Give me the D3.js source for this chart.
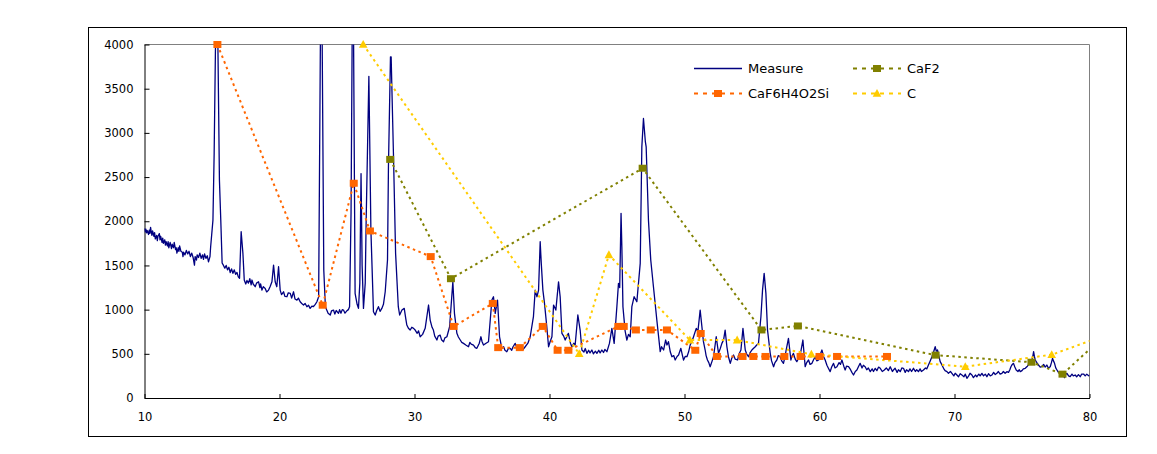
<!DOCTYPE html>
<html>
<head>
<meta charset="utf-8">
<script src="https://cdn.jsdelivr.net/npm/d3@7"></script>
<style>
  body { margin: 0; background: #fff; }
  svg text { font-family: "DejaVu Sans", sans-serif; fill: #000; }
  .axis text { font-size: 11.5px; }
  .legend text { font-size: 13px; }
</style>
</head>
<body>
<svg id="chart" width="1157" height="454"></svg>
<script>
// values: [2theta, intensity]
var measure = [
  [10.0,1920],[10.05,1880],[10.1,1910],[10.15,1870],[10.2,1895],[10.3,1850],[10.35,1900],[10.4,1863],[10.45,1930],
  [10.5,1880],[10.55,1840],[10.6,1890],[10.7,1830],[10.75,1870],[10.8,1800],[10.9,1840],[10.95,1780],[11.0,1830],
  [11.1,1860],[11.15,1790],[11.2,1830],[11.3,1760],[11.35,1810],[11.4,1750],[11.5,1790],[11.55,1730],[11.6,1770],
  [11.7,1720],[11.75,1770],[11.8,1700],[11.9,1760],[12.0,1690],[12.05,1740],[12.15,1700],[12.2,1760],[12.3,1680],
  [12.35,1700],[12.4,1640],[12.5,1700],[12.55,1660],[12.6,1720],[12.7,1660],[12.8,1650],[12.85,1600],[12.9,1650],
  [13.0,1620],[13.1,1670],[13.2,1630],[13.3,1660],[13.4,1600],[13.5,1640],[13.6,1590],[13.7,1504],[13.75,1600],
  [13.85,1560],[13.9,1620],[14.0,1590],[14.1,1640],[14.2,1580],[14.3,1620],[14.37,1570],[14.45,1630],[14.55,1580],
  [14.65,1610],[14.74,1541],[14.85,1600],[14.9,1711],[15.07,2013],[15.16,2770],[15.3,4500],[15.4,4500],[15.55,2466],
  [15.65,2013],[15.75,1527],[15.85,1500],[15.95,1470],[16.05,1500],[16.15,1450],[16.25,1480],[16.35,1420],
  [16.45,1460],[16.55,1410],[16.65,1450],[16.75,1400],[16.85,1420],[16.95,1370],[17.04,1354],[17.16,1881],
  [17.29,1636],[17.39,1335],[17.5,1290],[17.59,1330],[17.7,1300],[17.8,1350],[17.9,1280],[17.96,1335],[18.05,1290],
  [18.2,1259],[18.3,1300],[18.45,1315],[18.55,1250],[18.6,1290],[18.7,1221],[18.8,1260],[18.94,1240],[19.05,1200],
  [19.19,1221],[19.3,1260],[19.44,1315],[19.56,1504],[19.68,1315],[19.8,1259],[19.93,1485],[20.05,1221],[20.15,1170],
  [20.3,1202],[20.4,1150],[20.55,1146],[20.65,1190],[20.8,1184],[20.9,1130],[21.04,1202],[21.15,1120],[21.29,1108],
  [21.4,1130],[21.53,1089],[21.65,1070],[21.78,1052],[21.9,1070],[22.03,1033],[22.15,1050],[22.27,1014],[22.4,1040],
  [22.5,1033],[22.65,1060],[22.77,1089],[22.9,1146],[23.05,4500],[23.14,4500],[23.28,1448],[23.4,1033],[23.5,995],
  [23.6,960],[23.76,939],[23.85,985],[24.0,995],[24.1,950],[24.2,990],[24.37,958],[24.45,1000],[24.55,960],
  [24.65,1000],[24.74,995],[24.85,960],[25.0,988],[25.1,1000],[25.19,1033],[25.3,2100],[25.4,4500],[25.47,4500],
  [25.6,1184],[25.75,1060],[25.85,1014],[25.95,1300],[26.04,2540],[26.12,1500],[26.22,1014],[26.35,1300],[26.42,2013],
  [26.62,3640],[26.77,1900],[26.96,976],[27.09,939],[27.2,990],[27.33,1033],[27.45,980],[27.58,1014],[27.7,1060],
  [27.83,1202],[28.0,1561],[28.07,2616],[28.22,3860],[28.27,3860],[28.44,2767],[28.6,1636],[28.8,1033],[28.9,939],
  [29.07,995],[29.24,1014],[29.35,900],[29.43,826],[29.55,790],[29.68,769],[29.8,800],[29.93,788],[30.05,769],
  [30.2,732],[30.3,760],[30.42,693],[30.6,720],[30.79,788],[31.04,1052],[31.16,882],[31.3,800],[31.4,769],
  [31.5,700],[31.66,656],[31.75,700],[31.9,712],[32.0,660],[32.15,637],[32.25,680],[32.4,693],[32.6,806],
  [32.84,1315],[32.96,958],[33.14,732],[33.25,690],[33.39,656],[33.5,630],[33.63,618],[33.8,600],[34.0,580],
  [34.1,630],[34.2,610],[34.37,599],[34.5,570],[34.62,562],[34.8,620],[34.92,693],[35.0,640],[35.11,599],
  [35.3,620],[35.48,637],[35.73,1108],[35.85,1146],[35.98,958],[36.15,1108],[36.3,693],[36.47,562],[36.6,580],
  [36.7,540],[36.84,524],[36.95,560],[37.09,562],[37.2,540],[37.3,580],[37.46,618],[37.6,560],[37.7,590],
  [37.83,543],[37.95,570],[38.05,550],[38.2,580],[38.4,620],[38.57,693],[38.81,920],[38.94,1221],[39.07,1146],
  [39.19,1221],[39.31,1768],[39.39,1523],[39.51,1221],[39.63,1071],[39.8,806],[39.93,580],[40.05,640],[40.18,693],
  [40.3,1052],[40.47,995],[40.67,1315],[40.79,1146],[40.92,732],[41.05,700],[41.16,656],[41.3,700],[41.4,732],
  [41.55,620],[41.66,580],[41.8,620],[41.9,599],[42.1,939],[42.27,769],[42.4,543],[42.55,520],[42.65,560],
  [42.77,505],[42.9,540],[43.0,510],[43.14,543],[43.25,500],[43.4,530],[43.51,505],[43.65,540],[43.75,510],
  [43.88,543],[44.0,515],[44.1,550],[44.25,524],[44.44,618],[44.62,788],[44.79,618],[44.99,1033],[45.11,1297],
  [45.2,1250],[45.3,2090],[45.36,1711],[45.44,1033],[45.6,760],[45.73,656],[45.85,720],[45.98,693],[46.1,1033],
  [46.27,1146],[46.47,1089],[46.72,1523],[46.84,2842],[46.96,3163],[47.1,2900],[47.16,2842],[47.33,2013],[47.5,1561],
  [47.7,1259],[47.95,882],[48.2,524],[48.3,580],[48.45,543],[48.6,656],[48.7,600],[48.81,637],[48.95,520],
  [49.07,467],[49.2,480],[49.31,430],[49.45,470],[49.56,486],[49.73,562],[49.85,480],[49.93,430],[50.05,470],
  [50.18,467],[50.3,520],[50.42,599],[50.55,640],[50.67,693],[50.87,788],[50.99,750],[51.16,995],[51.29,806],
  [51.4,640],[51.53,543],[51.6,480],[51.7,430],[51.8,400],[51.9,354],[52.05,420],[52.15,467],[52.35,693],
  [52.52,505],[52.65,560],[52.77,618],[52.9,660],[53.01,769],[53.14,580],[53.25,470],[53.39,392],[53.5,450],
  [53.63,486],[53.75,440],[53.93,430],[54.05,500],[54.18,543],[54.33,788],[54.5,543],[54.6,500],[54.74,467],
  [54.85,510],[54.99,543],[55.1,560],[55.24,580],[55.35,600],[55.48,618],[55.66,920],[55.78,1221],[55.9,1410],
  [56.03,1184],[56.15,769],[56.35,505],[56.45,420],[56.6,354],[56.7,400],[56.84,430],[56.95,480],[57.09,467],
  [57.2,420],[57.33,392],[57.45,470],[57.53,543],[57.7,675],[57.88,430],[57.95,470],[58.07,505],[58.2,440],
  [58.32,411],[58.45,450],[58.57,486],[58.77,656],[58.94,354],[59.05,400],[59.19,430],[59.3,380],[59.44,392],
  [59.55,430],[59.68,467],[59.8,420],[59.93,430],[60.05,490],[60.18,543],[60.3,470],[60.42,430],[60.55,370],
  [60.65,340],[60.79,298],[60.9,350],[61.04,392],[61.15,340],[61.29,354],[61.45,400],[61.55,380],[61.66,430],
  [61.8,360],[61.9,317],[62.0,360],[62.15,354],[62.3,320],[62.4,290],[62.52,260],[62.65,300],[62.77,317],
  [62.9,360],[63.01,392],[63.15,340],[63.25,370],[63.38,354],[63.5,320],[63.62,340],[63.76,298],[63.9,330],
  [64.0,300],[64.13,336],[64.25,310],[64.38,350],[64.5,336],[64.65,300],[64.8,317],[64.95,340],[65.1,310],
  [65.24,354],[65.4,300],[65.5,320],[65.6,336],[65.75,290],[65.85,320],[65.98,298],[66.1,340],[66.22,336],
  [66.35,290],[66.45,320],[66.59,298],[66.7,330],[66.82,300],[66.96,336],[67.1,300],[67.2,320],[67.33,298],
  [67.45,330],[67.55,300],[67.7,317],[67.85,340],[67.95,330],[68.07,373],[68.2,420],[68.33,467],[68.45,520],
  [68.57,580],[68.65,530],[68.74,543],[68.85,470],[68.94,411],[69.05,380],[69.19,336],[69.3,310],[69.44,298],
  [69.55,280],[69.7,300],[69.81,279],[69.95,250],[70.05,280],[70.18,260],[70.3,240],[70.42,275],[70.55,260],
  [70.7,240],[70.8,270],[70.92,223],[71.05,250],[71.15,280],[71.29,260],[71.4,230],[71.55,260],[71.66,241],
  [71.8,270],[71.9,250],[72.03,279],[72.15,250],[72.28,270],[72.4,241],[72.52,275],[72.65,250],[72.77,260],
  [72.9,290],[73.02,265],[73.14,279],[73.25,300],[73.38,270],[73.51,279],[73.62,300],[73.75,280],[73.88,298],
  [74.0,290],[74.1,320],[74.18,354],[74.28,380],[74.37,392],[74.47,350],[74.57,317],[74.7,300],[74.8,320],
  [74.87,298],[75.0,310],[75.1,330],[75.24,336],[75.4,360],[75.56,392],[75.65,410],[75.73,430],[75.8,470],
  [75.86,524],[75.92,470],[75.98,430],[76.1,400],[76.22,373],[76.35,350],[76.47,354],[76.6,380],[76.72,350],
  [76.84,373],[76.95,340],[77.09,354],[77.18,400],[77.26,449],[77.33,420],[77.41,392],[77.5,340],[77.59,317],
  [77.7,290],[77.83,298],[77.95,270],[78.07,260],[78.15,230],[78.25,270],[78.33,279],[78.45,250],[78.57,241],
  [78.7,270],[78.8,250],[78.94,260],[79.05,240],[79.18,265],[79.31,241],[79.42,270],[79.56,271],[79.68,250],
  [79.8,270],[79.93,252],[80.0,255]
];

var caf6h4o2si = [
  [15.4,4000],[23.2,1050],[25.5,2430],[26.7,1890],[31.2,1600],[32.9,810],[35.8,1070],[36.2,570],[37.8,570],
  [39.5,810],[40.6,540],[41.4,540],[45.1,810],[45.5,810],[46.4,770],[47.5,770],[48.7,770],[50.8,540],[51.2,730],
  [52.4,470],[54.3,470],[55.1,470],[56.0,470],[57.4,470],[58.6,470],[60.0,470],[61.3,470],[65.0,470]
];

var caf2 = [
  [28.2,2700],[32.7,1350],[46.9,2600],[55.7,770],[58.4,815],[68.6,485],[75.7,405],[78.0,270],[82.0,830]
];

var carbon = [
  [26.2,4000],[42.2,500],[44.4,1620],[50.4,655],[53.9,655],[59.4,495],[70.8,355],[77.2,490],[83.0,810]
];

var xTicks = [10, 20, 30, 40, 50, 60, 70, 80];
var yTicks = [0, 500, 1000, 1500, 2000, 2500, 3000, 3500, 4000];

(function () {
  var NAVY = '#000080', ORANGE = '#ff6600', OLIVE = '#808000', GOLD = '#ffcc00';

  var svg = d3.select('#chart');

  // chart frame
  svg.append('rect')
    .attr('x', 88.5).attr('y', 27.5)
    .attr('width', 1038).attr('height', 409)
    .attr('fill', 'none').attr('stroke', '#000').attr('stroke-width', 1);

  var plotLeft = 144.5, plotRight = 1089.5, plotTop = 44.5, plotBottom = 398;

  var x = d3.scaleLinear().domain([10, 80]).range([plotLeft, plotRight]);
  var y = d3.scaleLinear().domain([0, 4000]).range([plotBottom, plotTop]);

  svg.append('defs').append('clipPath').attr('id', 'plot')
    .append('rect')
    .attr('x', plotLeft).attr('y', plotTop)
    .attr('width', plotRight - plotLeft).attr('height', plotBottom - plotTop);

  // gray top / right plot border
  svg.append('path')
    .attr('d', 'M' + plotLeft + ',' + plotTop + 'H' + plotRight + 'V' + plotBottom)
    .attr('fill', 'none').attr('stroke', '#808080').attr('stroke-width', 1);

  svg.append('g')
    .attr('class', 'axis')
    .attr('transform', 'translate(0,' + plotBottom + ')')
    .call(d3.axisBottom(x).tickValues(xTicks).tickFormat(d3.format('d'))
      .tickSizeInner(-4).tickSizeOuter(0).tickPadding(15));

  svg.append('g')
    .attr('class', 'axis')
    .attr('transform', 'translate(' + plotLeft + ',0)')
    .call(d3.axisLeft(y).tickValues(yTicks).tickFormat(d3.format('d'))
      .tickSizeInner(-5).tickSizeOuter(0).tickPadding(11));

  svg.selectAll('.axis path, .axis line').attr('stroke', '#000');
  svg.selectAll('.axis').attr('font-family', null).attr('font-size', null);

  var line = d3.line()
    .x(function (d) { return x(d[0]); })
    .y(function (d) { return y(d[1]); });

  var plot = svg.append('g').attr('clip-path', 'url(#plot)');

  plot.append('path')
    .datum(measure)
    .attr('d', line)
    .attr('fill', 'none')
    .attr('stroke', NAVY)
    .attr('stroke-width', 1.3)
    .attr('stroke-linejoin', 'round');

  var series = [
    { name: 'CaF6H4O2Si', data: caf6h4o2si, color: ORANGE, marker: 'square' },
    { name: 'CaF2', data: caf2, color: OLIVE, marker: 'square' },
    { name: 'C', data: carbon, color: GOLD, marker: 'triangle' }
  ];

  function drawMarker(g, type, color) {
    if (type === 'square') {
      g.append('rect')
        .attr('x', -4).attr('y', -3.5)
        .attr('width', 8).attr('height', 7)
        .attr('fill', color);
    } else {
      g.append('path')
        .attr('d', 'M0,-4.5L4.3,3.3L-4.3,3.3Z')
        .attr('fill', color);
    }
  }

  series.forEach(function (s) {
    plot.append('path')
      .datum(s.data)
      .attr('d', line)
      .attr('fill', 'none')
      .attr('stroke', s.color)
      .attr('stroke-width', 2)
      .attr('stroke-dasharray', '2.5,3.5');
  });

  // markers are not clipped (the ones at 4000 poke above the frame)
  series.forEach(function (s) {
    svg.append('g').selectAll('g')
      .data(s.data.filter(function (d) { return d[0] <= 80; }))
      .enter().append('g')
      .attr('transform', function (d) { return 'translate(' + x(d[0]) + ',' + y(d[1]) + ')'; })
      .each(function () { drawMarker(d3.select(this), s.marker, s.color); });
  });

  // legend
  var legendItems = [
    { name: 'Measure', color: NAVY, marker: null, lx: 694, ly: 68.5 },
    { name: 'CaF2', color: OLIVE, marker: 'square', lx: 853, ly: 68.5 },
    { name: 'CaF6H4O2Si', color: ORANGE, marker: 'square', lx: 694, ly: 93.5 },
    { name: 'C', color: GOLD, marker: 'triangle', lx: 853, ly: 93.5 }
  ];

  var legend = svg.append('g').attr('class', 'legend');

  legendItems.forEach(function (item) {
    var g = legend.append('g').attr('transform', 'translate(' + item.lx + ',' + item.ly + ')');
    var ln = g.append('line')
      .attr('x1', 0).attr('x2', 48)
      .attr('stroke', item.color);
    if (item.marker) {
      ln.attr('stroke-width', 2).attr('stroke-dasharray', '4,5');
      drawMarker(g.append('g').attr('transform', 'translate(24,0)'), item.marker, item.color);
    } else {
      ln.attr('stroke-width', 1.3);
    }
    g.append('text')
      .attr('x', 54)
      .attr('y', 4.7)
      .text(item.name);
  });
})();
</script>
</body>
</html>
